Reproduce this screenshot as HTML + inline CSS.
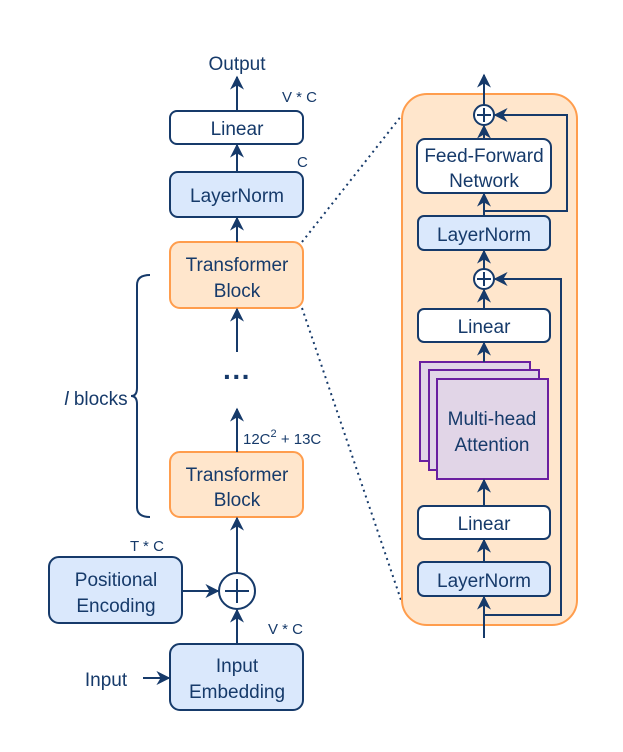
<!DOCTYPE html>
<html><head><style>body{margin:0;background:#fff}svg{display:block}text{font-family:"Liberation Sans",sans-serif;fill:#163a6a}</style></head><body>
<svg width="623" height="752" viewBox="0 0 623 752" xmlns="http://www.w3.org/2000/svg">
<defs><marker id="a" viewBox="0 0 10 10" refX="9" refY="5" markerWidth="7" markerHeight="7" orient="auto-start-reverse"><path d="M0,0 L10,5 L0,10 L3,5 z" fill="#163a6a"/></marker></defs>
<g stroke="#163a6a" stroke-width="2" fill="none">
<line x1="302" y1="242" x2="402" y2="115" stroke-dasharray="2,4"/>
<line x1="302" y1="308" x2="402" y2="603" stroke-dasharray="2,4"/>
<rect x="402" y="94" width="175" height="531" rx="25" fill="#ffe6cc" stroke="#ff9d4d"/>
<rect x="170" y="111" width="133" height="33" rx="7" fill="#fff"/>
<rect x="170" y="172" width="133" height="45" rx="8" fill="#dae8fc"/>
<rect x="170" y="242" width="133" height="66" rx="10" fill="#ffe6cc" stroke="#ff9d4d"/>
<rect x="170" y="452" width="133" height="65" rx="10" fill="#ffe6cc" stroke="#ff9d4d"/>
<rect x="49" y="557" width="133" height="66" rx="10" fill="#dae8fc"/>
<rect x="170" y="644" width="133" height="66" rx="10" fill="#dae8fc"/>
<circle cx="237" cy="591" r="18" fill="#fff"/>
<line x1="237" y1="579" x2="237" y2="603"/><line x1="225" y1="591" x2="249" y2="591"/>
<line x1="237" y1="111" x2="237" y2="77" marker-end="url(#a)"/>
<line x1="237" y1="172" x2="237" y2="145" marker-end="url(#a)"/>
<line x1="237" y1="242" x2="237" y2="218" marker-end="url(#a)"/>
<line x1="237" y1="352" x2="237" y2="309" marker-end="url(#a)"/>
<line x1="237" y1="452" x2="237" y2="409" marker-end="url(#a)"/>
<line x1="237" y1="573" x2="237" y2="518" marker-end="url(#a)"/>
<line x1="237" y1="644" x2="237" y2="610" marker-end="url(#a)"/>
<line x1="182" y1="591" x2="218" y2="591" marker-end="url(#a)"/>
<line x1="143" y1="678" x2="169" y2="678" marker-end="url(#a)"/>
<path d="M150,275 Q137,275 137,285 L137,388 Q137,396 131,396 Q137,396 137,404 L137,507 Q137,517 150,517"/>
<rect x="417" y="139" width="134" height="54" rx="8" fill="#fff"/>
<rect x="418" y="216" width="132" height="34" rx="6" fill="#dae8fc"/>
<rect x="418" y="309" width="132" height="33" rx="6" fill="#fff"/>
<rect x="420" y="362" width="110" height="99" fill="#e1d5e7" stroke="#6a1fa0"/>
<rect x="429" y="370" width="110" height="100" fill="#e1d5e7" stroke="#6a1fa0"/>
<rect x="437" y="379" width="111" height="100" fill="#e1d5e7" stroke="#6a1fa0"/>
<rect x="418" y="506" width="132" height="33" rx="6" fill="#fff"/>
<rect x="418" y="562" width="132" height="34" rx="6" fill="#dae8fc"/>
<circle cx="484" cy="115" r="10" fill="#fff"/><line x1="484" y1="108" x2="484" y2="122"/><line x1="477" y1="115" x2="491" y2="115"/>
<circle cx="484" cy="279" r="10" fill="#fff"/><line x1="484" y1="272" x2="484" y2="286"/><line x1="477" y1="279" x2="491" y2="279"/>
<line x1="484" y1="638" x2="484" y2="597" marker-end="url(#a)"/>
<line x1="484" y1="562" x2="484" y2="540" marker-end="url(#a)"/>
<line x1="484" y1="506" x2="484" y2="480" marker-end="url(#a)"/>
<line x1="484" y1="362" x2="484" y2="343" marker-end="url(#a)"/>
<line x1="484" y1="309" x2="484" y2="290" marker-end="url(#a)"/>
<line x1="484" y1="269" x2="484" y2="251" marker-end="url(#a)"/>
<line x1="484" y1="216" x2="484" y2="194" marker-end="url(#a)"/>
<line x1="484" y1="139" x2="484" y2="126" marker-end="url(#a)"/>
<line x1="484" y1="105" x2="484" y2="75" marker-end="url(#a)"/>
<polyline points="484,615 561,615 561,279 495,279" marker-end="url(#a)"/>
<polyline points="484,211 567,211 567,115 495,115" marker-end="url(#a)"/>
</g>
<g font-size="19" text-anchor="middle">
<text x="237" y="70">Output</text>
<text x="237" y="135">Linear</text>
<text x="237" y="202">LayerNorm</text>
<text x="237" y="271">Transformer</text><text x="237" y="297">Block</text>
<text x="237" y="481">Transformer</text><text x="237" y="506">Block</text>
<text x="116" y="586">Positional</text><text x="116" y="612">Encoding</text>
<text x="237" y="672">Input</text><text x="237" y="698">Embedding</text>
<text x="106" y="686">Input</text>
<text x="96" y="405"><tspan font-style="italic">l</tspan> blocks</text>
<text x="484" y="162">Feed-Forward</text><text x="484" y="187">Network</text>
<text x="484" y="241">LayerNorm</text>
<text x="484" y="333">Linear</text>
<text x="492" y="425">Multi-head</text><text x="492" y="451">Attention</text>
<text x="484" y="530">Linear</text>
<text x="484" y="587">LayerNorm</text>
</g>
<text x="237" y="386" font-size="28" text-anchor="middle" font-weight="bold">···</text>
<g font-size="15" style="font-family:'DejaVu Sans',sans-serif">
<text x="282" y="102">V * C</text>
<text x="297" y="167">C</text>
<text x="243" y="444">12C<tspan dy="-7" font-size="11">2</tspan><tspan dy="7"> + 13C</tspan></text>
<text x="130" y="551">T * C</text>
<text x="268" y="634">V * C</text>
</g>
</svg>
</body></html>
